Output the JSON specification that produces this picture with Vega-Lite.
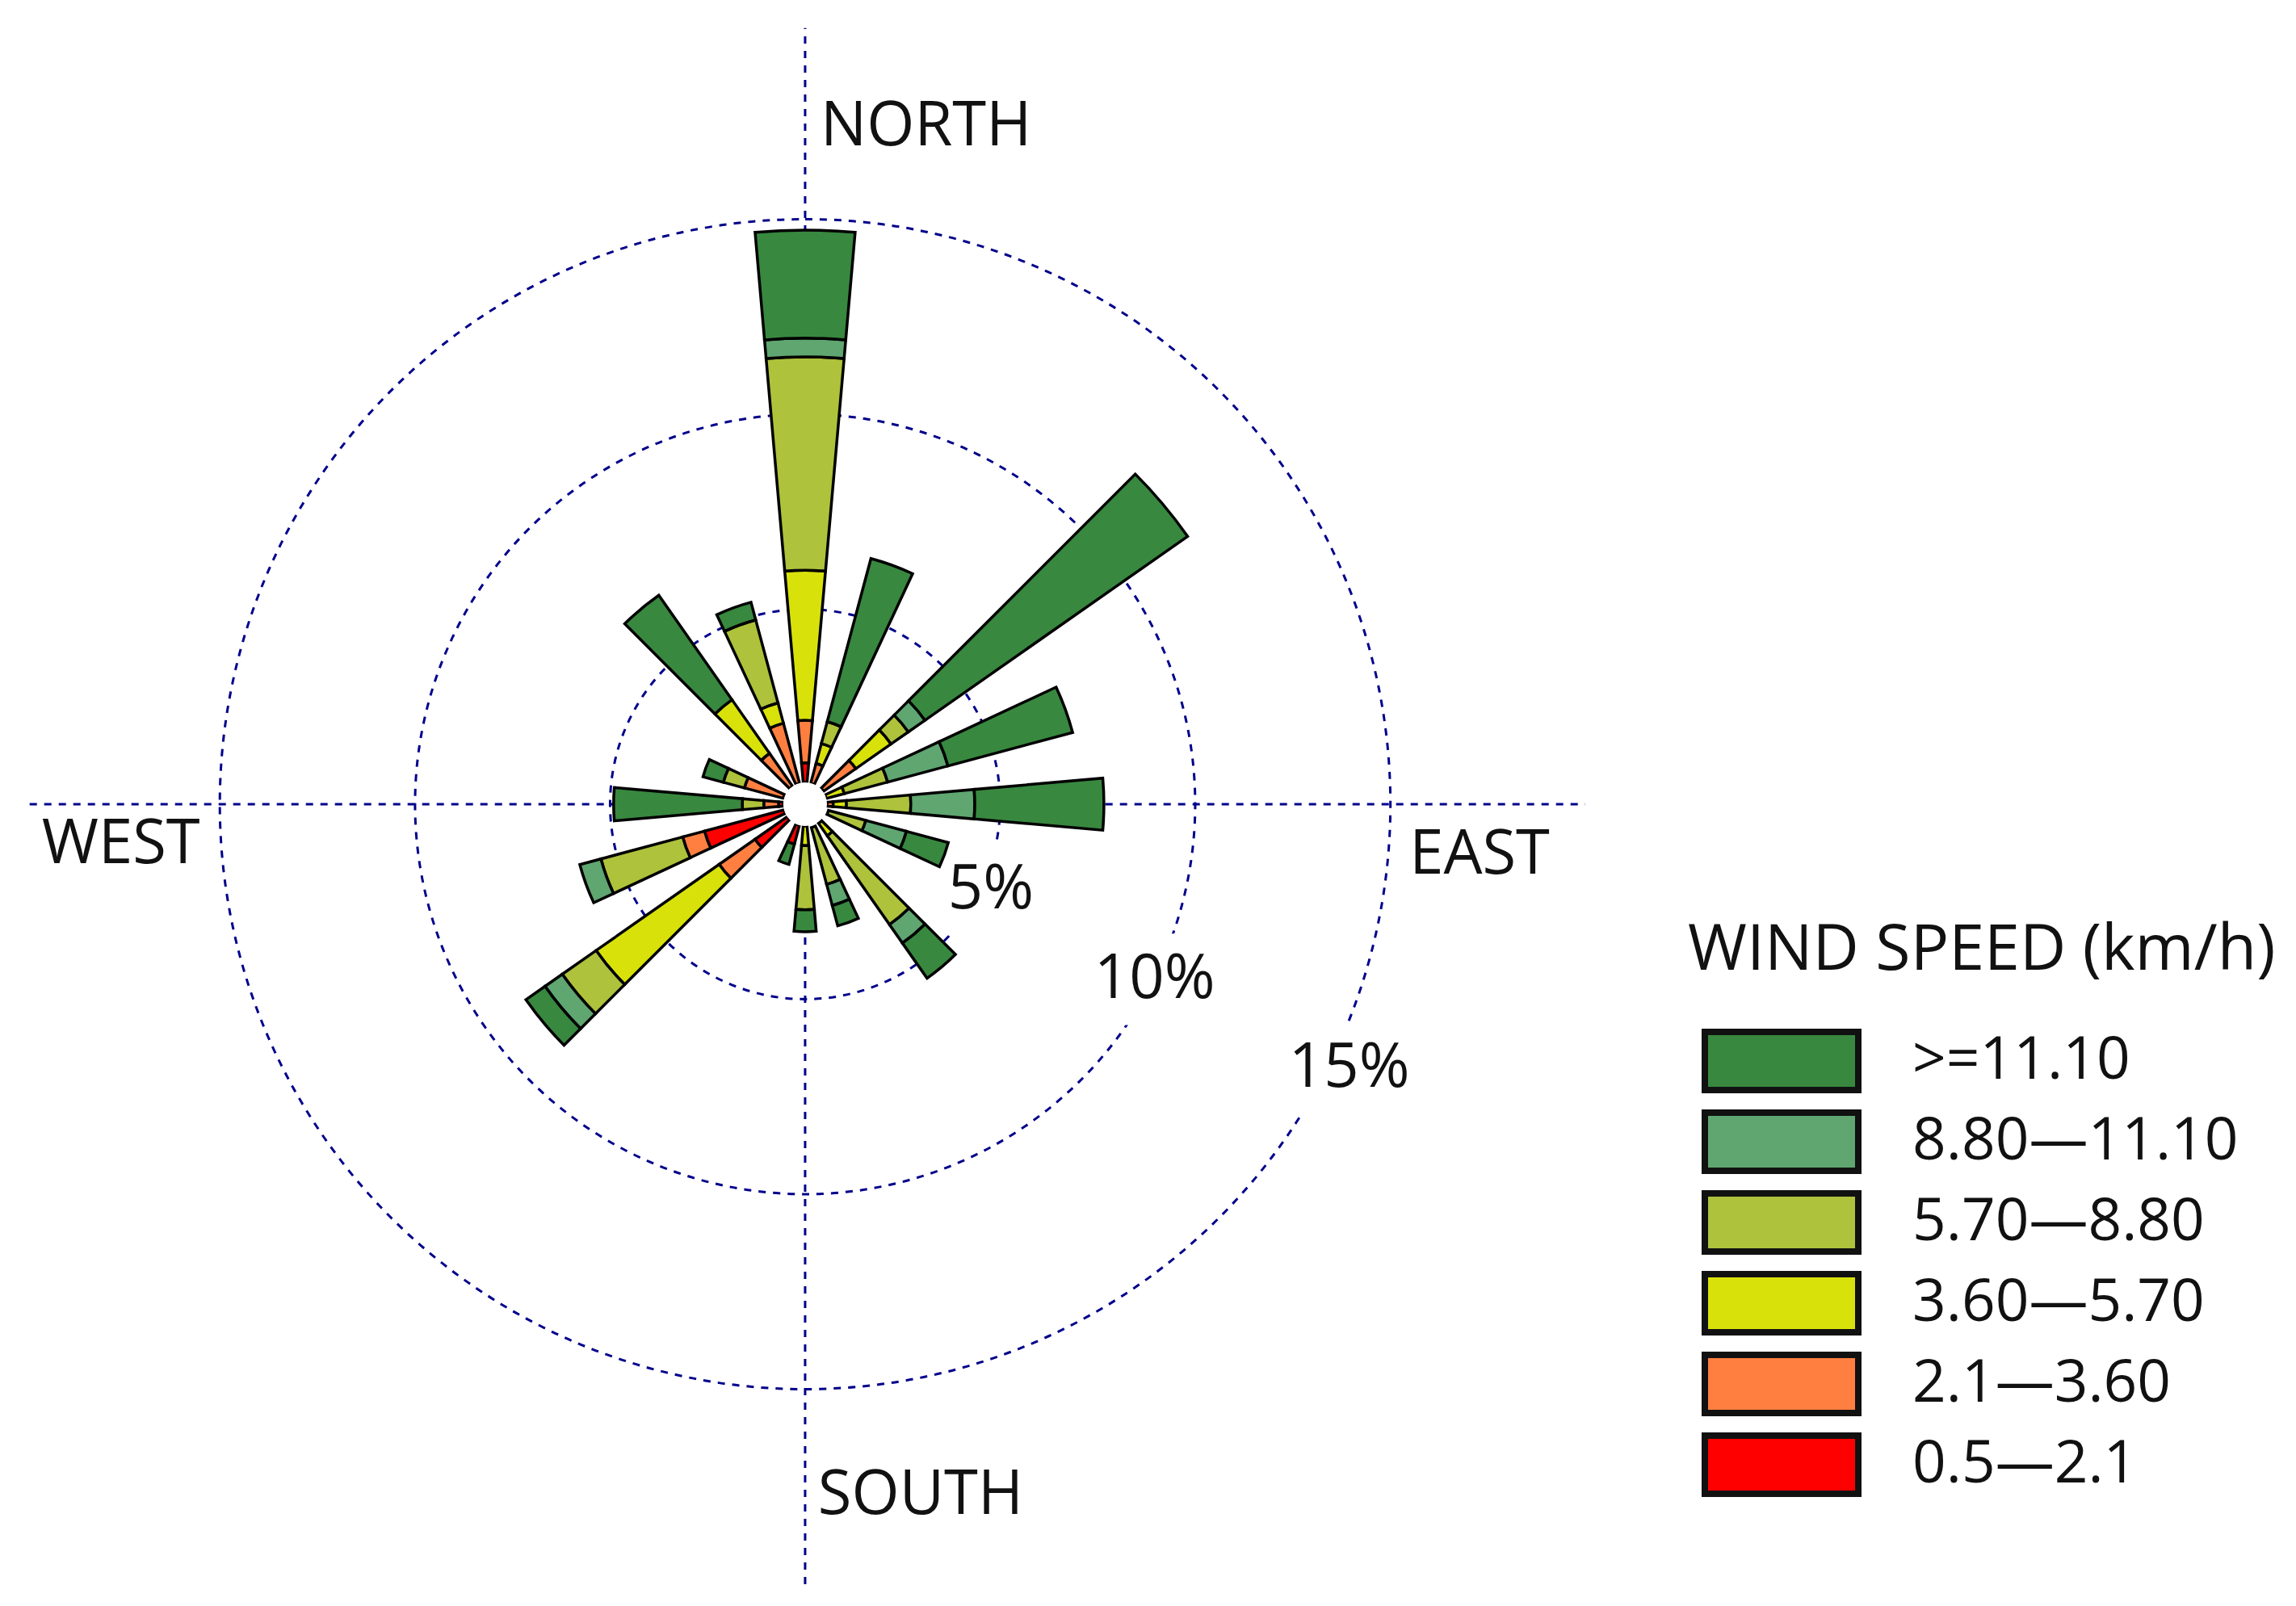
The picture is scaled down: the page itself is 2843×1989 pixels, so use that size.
{
  "$schema": "https://vega.github.io/schema/vega-lite/v6.json",
  "width": 2843,
  "height": 1989,
  "padding": 0,
  "autosize": {"type": "none"},
  "background": "white",
  "config": {"view": {"stroke": null}},
  "datasets": {
    "bars": [
      {"dir": 0, "a0": -5, "a1": 5, "speed": "0.5—2.1", "r0": 0.56, "r1": 1.06},
      {"dir": 0, "a0": -5, "a1": 5, "speed": "2.1—3.60", "r0": 1.06, "r1": 2.15},
      {"dir": 0, "a0": -5, "a1": 5, "speed": "3.60—5.70", "r0": 2.15, "r1": 6.0},
      {"dir": 0, "a0": -5, "a1": 5, "speed": "5.70—8.80", "r0": 6.0, "r1": 11.47},
      {"dir": 0, "a0": -5, "a1": 5, "speed": "8.80—11.10", "r0": 11.47, "r1": 11.95},
      {"dir": 0, "a0": -5, "a1": 5, "speed": ">=11.10", "r0": 11.95, "r1": 14.72},
      {"dir": 20, "a0": 15, "a1": 25, "speed": "2.1—3.60", "r0": 0.56, "r1": 1.08},
      {"dir": 20, "a0": 15, "a1": 25, "speed": "3.60—5.70", "r0": 1.08, "r1": 1.61},
      {"dir": 20, "a0": 15, "a1": 25, "speed": "5.70—8.80", "r0": 1.61, "r1": 2.19},
      {"dir": 20, "a0": 15, "a1": 25, "speed": ">=11.10", "r0": 2.19, "r1": 6.52},
      {"dir": 50, "a0": 45, "a1": 55, "speed": "2.1—3.60", "r0": 0.58, "r1": 1.59},
      {"dir": 50, "a0": 45, "a1": 55, "speed": "3.60—5.70", "r0": 1.59, "r1": 2.69},
      {"dir": 50, "a0": 45, "a1": 55, "speed": "5.70—8.80", "r0": 2.69, "r1": 3.23},
      {"dir": 50, "a0": 45, "a1": 55, "speed": "8.80—11.10", "r0": 3.23, "r1": 3.75},
      {"dir": 50, "a0": 45, "a1": 55, "speed": ">=11.10", "r0": 3.75, "r1": 11.97},
      {"dir": 70, "a0": 65, "a1": 75, "speed": "3.60—5.70", "r0": 0.56, "r1": 1.04},
      {"dir": 70, "a0": 65, "a1": 75, "speed": "5.70—8.80", "r0": 1.04, "r1": 2.19},
      {"dir": 70, "a0": 65, "a1": 75, "speed": "8.80—11.10", "r0": 2.19, "r1": 3.79},
      {"dir": 70, "a0": 65, "a1": 75, "speed": ">=11.10", "r0": 3.79, "r1": 7.1},
      {"dir": 90, "a0": 85, "a1": 95, "speed": "2.1—3.60", "r0": 0.56, "r1": 0.72},
      {"dir": 90, "a0": 85, "a1": 95, "speed": "3.60—5.70", "r0": 0.72, "r1": 1.06},
      {"dir": 90, "a0": 85, "a1": 95, "speed": "5.70—8.80", "r0": 1.06, "r1": 2.71},
      {"dir": 90, "a0": 85, "a1": 95, "speed": "8.80—11.10", "r0": 2.71, "r1": 4.35},
      {"dir": 90, "a0": 85, "a1": 95, "speed": ">=11.10", "r0": 4.35, "r1": 7.66},
      {"dir": 110, "a0": 105, "a1": 115, "speed": "5.70—8.80", "r0": 0.62, "r1": 1.61},
      {"dir": 110, "a0": 105, "a1": 115, "speed": "8.80—11.10", "r0": 1.61, "r1": 2.69},
      {"dir": 110, "a0": 105, "a1": 115, "speed": ">=11.10", "r0": 2.69, "r1": 3.8},
      {"dir": 140, "a0": 135, "a1": 145, "speed": "3.60—5.70", "r0": 0.6, "r1": 0.99},
      {"dir": 140, "a0": 135, "a1": 145, "speed": "5.70—8.80", "r0": 0.99, "r1": 3.77},
      {"dir": 140, "a0": 135, "a1": 145, "speed": "8.80—11.10", "r0": 3.77, "r1": 4.35},
      {"dir": 140, "a0": 135, "a1": 145, "speed": ">=11.10", "r0": 4.35, "r1": 5.45},
      {"dir": 160, "a0": 155, "a1": 165, "speed": "5.70—8.80", "r0": 0.62, "r1": 2.13},
      {"dir": 160, "a0": 155, "a1": 165, "speed": "8.80—11.10", "r0": 2.13, "r1": 2.69},
      {"dir": 160, "a0": 155, "a1": 165, "speed": ">=11.10", "r0": 2.69, "r1": 3.23},
      {"dir": 180, "a0": 175, "a1": 185, "speed": "3.60—5.70", "r0": 0.56, "r1": 1.06},
      {"dir": 180, "a0": 175, "a1": 185, "speed": "5.70—8.80", "r0": 1.06, "r1": 2.71},
      {"dir": 180, "a0": 175, "a1": 185, "speed": ">=11.10", "r0": 2.71, "r1": 3.27},
      {"dir": 200, "a0": 195, "a1": 205, "speed": "0.5—2.1", "r0": 0.56, "r1": 1.06},
      {"dir": 200, "a0": 195, "a1": 205, "speed": ">=11.10", "r0": 1.06, "r1": 1.6},
      {"dir": 230, "a0": 225, "a1": 235, "speed": "0.5—2.1", "r0": 0.56, "r1": 1.57},
      {"dir": 230, "a0": 225, "a1": 235, "speed": "2.1—3.60", "r0": 1.57, "r1": 2.69},
      {"dir": 230, "a0": 225, "a1": 235, "speed": "3.60—5.70", "r0": 2.69, "r1": 6.54},
      {"dir": 230, "a0": 225, "a1": 235, "speed": "5.70—8.80", "r0": 6.54, "r1": 7.6},
      {"dir": 230, "a0": 225, "a1": 235, "speed": "8.80—11.10", "r0": 7.6, "r1": 8.14},
      {"dir": 230, "a0": 225, "a1": 235, "speed": ">=11.10", "r0": 8.14, "r1": 8.74},
      {"dir": 250, "a0": 245, "a1": 255, "speed": "0.5—2.1", "r0": 0.56, "r1": 2.67},
      {"dir": 250, "a0": 245, "a1": 255, "speed": "2.1—3.60", "r0": 2.67, "r1": 3.25},
      {"dir": 250, "a0": 245, "a1": 255, "speed": "5.70—8.80", "r0": 3.25, "r1": 5.42},
      {"dir": 250, "a0": 245, "a1": 255, "speed": "8.80—11.10", "r0": 5.42, "r1": 5.98},
      {"dir": 270, "a0": 265, "a1": 275, "speed": "0.5—2.1", "r0": 0.56, "r1": 0.68},
      {"dir": 270, "a0": 265, "a1": 275, "speed": "2.1—3.60", "r0": 0.68, "r1": 1.06},
      {"dir": 270, "a0": 265, "a1": 275, "speed": "5.70—8.80", "r0": 1.06, "r1": 1.61},
      {"dir": 270, "a0": 265, "a1": 275, "speed": ">=11.10", "r0": 1.61, "r1": 4.91},
      {"dir": 290, "a0": 285, "a1": 295, "speed": "2.1—3.60", "r0": 0.58, "r1": 1.61},
      {"dir": 290, "a0": 285, "a1": 295, "speed": "5.70—8.80", "r0": 1.61, "r1": 2.17},
      {"dir": 290, "a0": 285, "a1": 295, "speed": ">=11.10", "r0": 2.17, "r1": 2.71},
      {"dir": 320, "a0": 315, "a1": 325, "speed": "2.1—3.60", "r0": 0.56, "r1": 1.59},
      {"dir": 320, "a0": 315, "a1": 325, "speed": "3.60—5.70", "r0": 1.59, "r1": 3.27},
      {"dir": 320, "a0": 315, "a1": 325, "speed": ">=11.10", "r0": 3.27, "r1": 6.54},
      {"dir": 340, "a0": 335, "a1": 345, "speed": "2.1—3.60", "r0": 0.56, "r1": 2.15},
      {"dir": 340, "a0": 335, "a1": 345, "speed": "3.60—5.70", "r0": 2.15, "r1": 2.69},
      {"dir": 340, "a0": 335, "a1": 345, "speed": "5.70—8.80", "r0": 2.69, "r1": 4.89},
      {"dir": 340, "a0": 335, "a1": 345, "speed": ">=11.10", "r0": 4.89, "r1": 5.36}
    ],
    "rings": [
      {"ring": 5, "a0": 0, "a1": 360},
      {"ring": 10, "a0": 0, "a1": 360},
      {"ring": 15, "a0": 0, "a1": 360}
    ],
    "axes": [
      {"x0": -19.88, "x1": 20, "y0": 0, "y1": 0},
      {"x0": 0, "x1": 0, "y0": -20, "y1": 19.9}
    ],
    "labels": [
      {"x": 3.1, "y": 17.36, "text": "NORTH"},
      {"x": 2.96, "y": -17.73, "text": "SOUTH"},
      {"x": -17.54, "y": -1.04, "text": "WEST"},
      {"x": 17.29, "y": -1.3, "text": "EAST"},
      {"x": 4.76, "y": -2.19, "text": "5%"},
      {"x": 8.96, "y": -4.49, "text": "10%"},
      {"x": 13.95, "y": -6.77, "text": "15%"}
    ]
  },
  "layer": [
    {
      "data": {"name": "rings"},
      "mark": {"type": "arc", "filled": false, "stroke": "#00008b", "strokeWidth": 3, "strokeDash": [9, 9]},
      "encoding": {
        "x": {"datum": 0, "type": "quantitative", "scale": {"domain": [-20.64, 38.22], "nice": false, "zero": false}, "axis": null},
        "y": {"datum": 0, "type": "quantitative", "scale": {"domain": [-20.56, 20.62], "nice": false, "zero": false}, "axis": null},
        "theta": {"field": "a0", "type": "quantitative", "scale": {"domain": [0, 360], "range": [0, 6.28319]}},
        "theta2": {"field": "a1"},
        "radius": {"field": "ring", "type": "quantitative", "scale": {"type": "linear", "domain": [0, 20], "range": [0, 966]}}
      }
    },
    {
      "data": {"name": "axes"},
      "mark": {"type": "rule", "stroke": "#00008b", "strokeWidth": 3, "strokeDash": [9, 9]},
      "encoding": {
        "x": {"field": "x0", "type": "quantitative", "scale": {"domain": [-20.64, 38.22], "nice": false, "zero": false}, "axis": null},
        "x2": {"field": "x1"},
        "y": {"field": "y0", "type": "quantitative", "scale": {"domain": [-20.56, 20.62], "nice": false, "zero": false}, "axis": null},
        "y2": {"field": "y1"}
      }
    },
    {
      "data": {"name": "labels"},
      "transform": [{"filter": {"field": "text", "oneOf": ["5%", "10%", "15%"]}}],
      "mark": {"type": "point", "shape": "M-1,-0.8H1V0.8H-1Z", "filled": true, "fill": "white", "opacity": 1, "stroke": null, "size": 20000},
      "encoding": {
        "x": {"field": "x", "type": "quantitative", "scale": {"domain": [-20.64, 38.22], "nice": false, "zero": false}, "axis": null},
        "y": {"field": "y", "type": "quantitative", "scale": {"domain": [-20.56, 20.62], "nice": false, "zero": false}, "axis": null}
      }
    },
    {
      "data": {"name": "bars"},
      "mark": {"type": "arc", "stroke": "black", "strokeWidth": 3.5},
      "encoding": {
        "x": {"datum": 0, "type": "quantitative", "scale": {"domain": [-20.64, 38.22], "nice": false, "zero": false}, "axis": null},
        "y": {"datum": 0, "type": "quantitative", "scale": {"domain": [-20.56, 20.62], "nice": false, "zero": false}, "axis": null},
        "theta": {"field": "a0", "type": "quantitative", "scale": {"domain": [0, 360], "range": [0, 6.28319]}},
        "theta2": {"field": "a1"},
        "radius": {"field": "r1", "type": "quantitative", "scale": {"type": "linear", "domain": [0, 20], "range": [0, 966]}},
        "radius2": {"field": "r0"},
        "color": {
          "field": "speed",
          "type": "nominal",
          "sort": null,
          "scale": {
            "domain": [">=11.10", "8.80—11.10", "5.70—8.80", "3.60—5.70", "2.1—3.60", "0.5—2.1"],
            "range": ["#38883f", "#5fa671", "#aec23b", "#d8e20a", "#ff7f41", "#ff0000"]
          },
          "legend": {
            "title": "WIND SPEED (km/h)",
            "orient": "none",
            "legendX": 2090,
            "legendY": 1139,
            "titleFont": "Open Sans",
            "titleFontSize": 79,
            "titleFontWeight": "normal",
            "titleColor": "#111111",
            "titleLimit": 900,
            "titlePadding": 55,
            "labelFont": "Open Sans",
            "labelFontSize": 73,
            "labelColor": "#111111",
            "labelLimit": 600,
            "labelOffset": 63,
            "symbolType": "M-1,-0.38H1V0.38H-1Z",
            "symbolSize": 36100,
            "symbolStrokeColor": "#111111",
            "symbolStrokeWidth": 8,
            "symbolOpacity": 1,
            "symbolOffset": 17,
            "clipHeight": 82,
            "rowPadding": 18
          }
        }
      }
    },
    {
      "data": {"values": [{"hole": 0.56, "a0": 0, "a1": 360}]},
      "mark": {"type": "arc", "fill": "white", "stroke": null},
      "encoding": {
        "x": {"datum": 0, "type": "quantitative", "scale": {"domain": [-20.64, 38.22], "nice": false, "zero": false}, "axis": null},
        "y": {"datum": 0, "type": "quantitative", "scale": {"domain": [-20.56, 20.62], "nice": false, "zero": false}, "axis": null},
        "theta": {"field": "a0", "type": "quantitative", "scale": {"domain": [0, 360], "range": [0, 6.28319]}},
        "theta2": {"field": "a1"},
        "radius": {"field": "hole", "type": "quantitative", "scale": {"type": "linear", "domain": [0, 20], "range": [0, 966]}}
      }
    },
    {
      "data": {"name": "labels"},
      "mark": {"type": "text", "font": "Open Sans", "fontSize": 76, "align": "center", "baseline": "middle", "color": "#111111"},
      "encoding": {
        "x": {"field": "x", "type": "quantitative", "scale": {"domain": [-20.64, 38.22], "nice": false, "zero": false}, "axis": null},
        "y": {"field": "y", "type": "quantitative", "scale": {"domain": [-20.56, 20.62], "nice": false, "zero": false}, "axis": null},
        "text": {"field": "text", "type": "nominal"}
      }
    }
  ]
}
